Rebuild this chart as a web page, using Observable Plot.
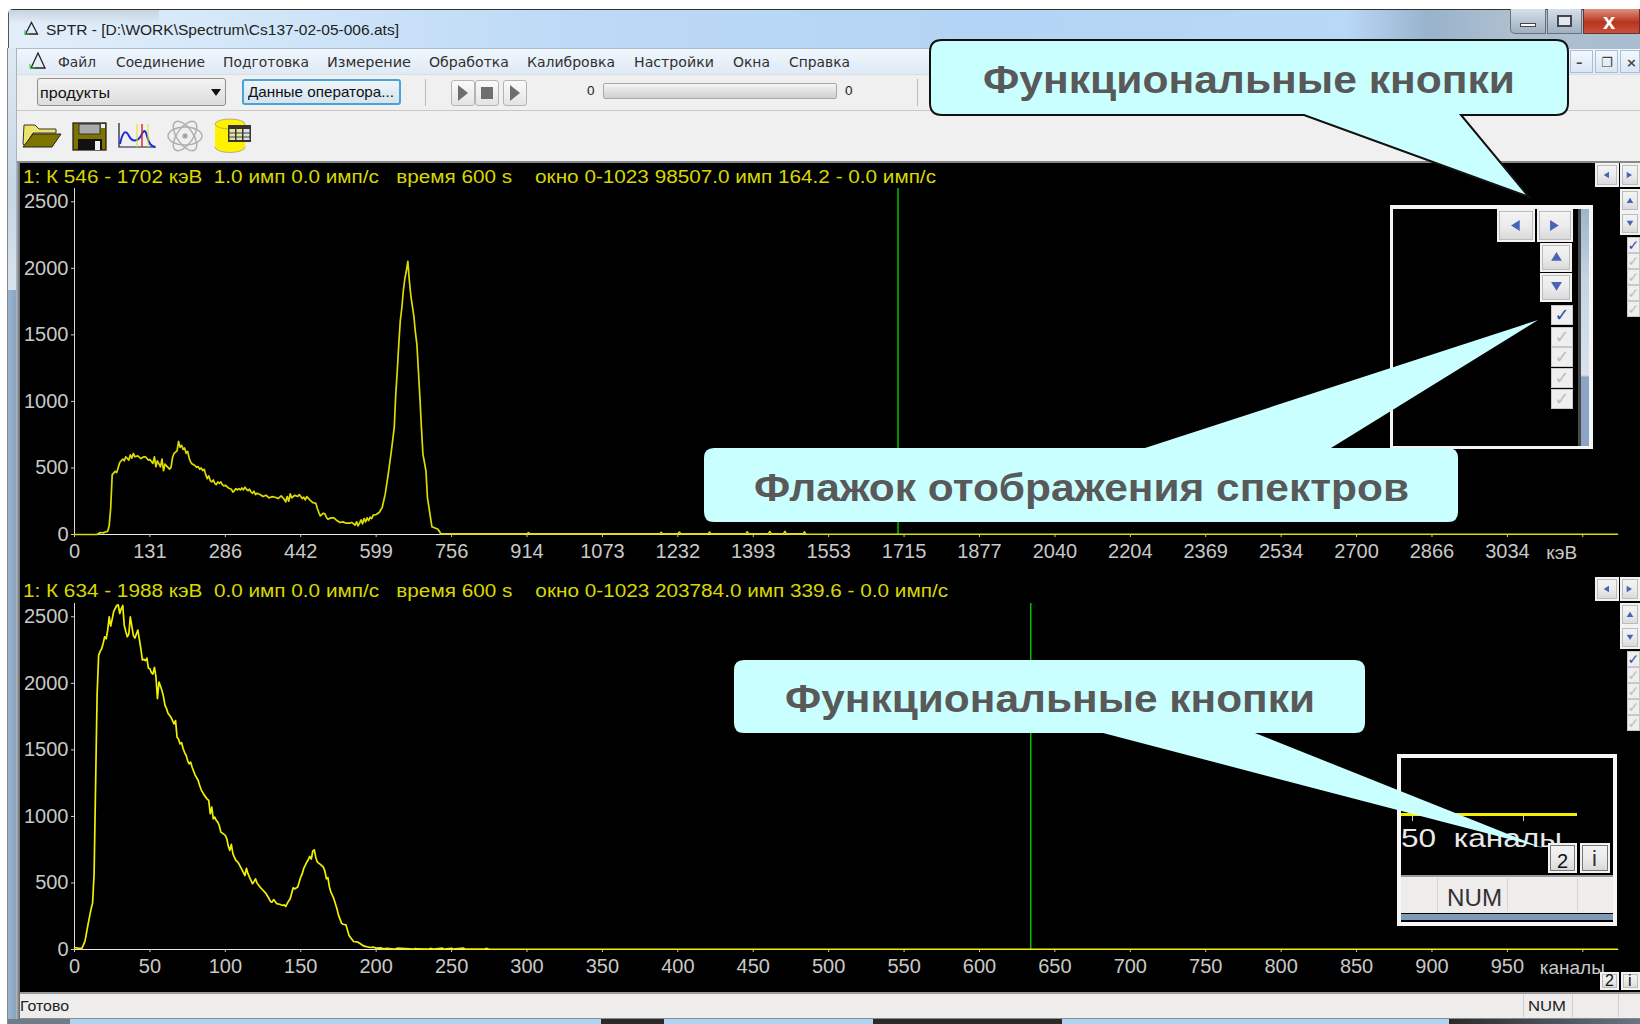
<!DOCTYPE html>
<html><head><meta charset="utf-8">
<script src="https://cdn.jsdelivr.net/npm/d3@7"></script>
<script src="https://cdn.jsdelivr.net/npm/@observablehq/plot@0.6"></script>
<style>
html,body{margin:0;padding:0;background:#fff;width:1640px;height:1024px;overflow:hidden;font-family:"Liberation Sans",Arial,sans-serif}
#app{position:relative;width:1640px;height:1024px;overflow:hidden}
.a{position:absolute;box-sizing:border-box}
.t{position:absolute;white-space:pre;transform-origin:0 50%;line-height:1}
svg{display:block}
</style></head><body><div id="app"></div>
<script>
// ---------- DATA ----------
const topChannels = [0,15,17,19,22,23,24,25,27,28,30,31,32,33,34,36,37,38,39,40,42,44,46,47,49,50,52,53,54,55,57,58,59,60,61,63,64,65,66,68,69,70,71,72,73,74,75,76,77,78,79,80,81,82,83,84,85,86,87,88,89,90,91,92,93,94,95,96,97,98,99,100,102,104,105,106,107,108,109,110,111,112,113,114,115,116,117,118,119,120,121,123,125,127,129,131,133,135,137,139,140,141,142,143,144,146,148,149,151,152,153,154,156,158,160,161,162,163,165,166,167,168,170,172,174,176,178,180,182,184,186,187,188,189,190,191,192,193,194,195,196,197,198,200,202,204,206,208,210,212,213,214,215,216,217,218,219,220,221,222,223,225,226,227,228,229,230,231,233,234,236,237,241,243,300,301,302,388,389,390,400,401,402,420,421,422,445,446,447,460,461,462,470,471,472,483,484,485,1023];
const topCounts = [0,0,15,12,25,65,200,450,474,466,541,554,566,554,584,559,599,574,609,584,591,571,584,584,559,564,534,584,509,554,509,566,479,529,516,491,504,579,609,629,699,655,670,640,650,610,625,575,545,530,525,515,505,510,490,500,480,490,450,420,440,405,395,410,385,375,395,385,395,375,365,370,350,340,318,330,345,335,345,335,350,335,355,340,330,340,320,310,325,300,310,300,285,295,275,285,280,270,290,265,245,285,250,305,275,295,285,300,270,280,260,285,260,240,235,195,165,140,160,155,130,115,125,125,105,90,95,85,85,90,70,95,65,85,110,80,120,95,125,105,130,120,145,150,165,203,303,454,620,805,1055,1230,1431,1607,1700,1830,1920,1980,2052,1907,1794,1640,1520,1431,1230,1030,805,604,479,278,128,58,40,4,4,14,4,4,16,4,4,18,4,4,18,4,4,20,4,4,22,4,4,24,4,4,20,2,2];

const bottomChannels = [0,3,5,7,9,11,12,13,14,15,16,17,18,19,20,21,22,23,24,25,26,28,29,30,31,32,33,34,35,36,37,38,39,40,42,43,44,45,46,47,48,49,50,51,52,53,54,55,56,57,58,59,60,61,62,63,64,65,66,67,68,69,70,71,72,73,74,75,76,77,78,79,80,82,83,84,86,87,88,89,90,91,92,93,94,95,96,97,98,100,101,102,103,104,105,106,107,108,109,111,113,114,115,116,117,118,119,120,121,123,125,127,129,130,131,132,134,136,138,139,140,141,142,143,145,146,148,150,151,152,154,155,156,157,158,159,160,161,163,165,166,167,168,169,170,171,172,174,175,177,178,180,182,185,188,190,192,196,198,200,203,205,207,212,213,214,225,226,227,235,236,238,244,245,250,251,258,259,272,273,275,1023];
const bottomCounts = [15,8,10,65,190,305,350,570,1245,1920,2210,2240,2260,2300,2350,2335,2400,2500,2430,2485,2540,2585,2590,2525,2560,2585,2435,2390,2350,2370,2500,2430,2360,2340,2400,2330,2260,2175,2180,2170,2190,2115,2110,2080,2070,2120,2050,1885,2010,1980,1945,1900,1835,1810,1775,1760,1745,1720,1695,1720,1595,1580,1545,1555,1510,1480,1460,1420,1395,1408,1370,1340,1310,1270,1233,1200,1160,1145,1130,1120,1020,1070,982,995,970,957,930,882,875,857,830,775,745,790,720,694,670,660,644,600,556,610,570,544,520,494,510,531,500,469,445,420,381,360,356,375,345,340,331,335,323,345,365,381,464,455,469,544,570,610,657,675,699,680,740,749,690,657,640,619,590,531,540,470,431,406,380,306,260,198,190,185,105,60,55,40,25,15,18,10,12,5,9,3,4,10,3,8,4,3,8,3,10,3,9,3,10,3,3,8,2,2];

const channelTicks = [0,50,100,150,200,250,300,350,400,450,500,550,600,650,700,750,800,850,900,950,1000];
const kevLabels = ["0","131","286","442","599","756","914","1073","1232","1393","1553","1715","1877","2040","2204","2369","2534","2700","2866","3034",""];
const channelLabels = ["0","50","100","150","200","250","300","350","400","450","500","550","600","650","700","750","800","850","900","950",""];
const countTicks = [0,500,1000,1500,2000,2500];
const topMarker = 546, bottomMarker = 634;
const topHeader = "1: К 546 - 1702 кэВ  1.0 имп 0.0 имп/с   время 600 s    окно 0-1023 98507.0 имп 164.2 - 0.0 имп/с";
const bottomHeader = "1: К 634 - 1988 кэВ  0.0 имп 0.0 имп/с   время 600 s    окно 0-1023 203784.0 имп 339.6 - 0.0 имп/с";
const menuItems = [["Файл",58,38],["Соединение",116,89],["Подготовка",223,86],["Измерение",327,84],["Обработка",429,80],["Калибровка",527,88],["Настройки",634,80],["Окна",733,37],["Справка",789,61]];

// ---------- CHROME HELPERS ----------
const app = document.getElementById("app");
function box(x,y,w,h,css,parent){const d=document.createElement("div");d.className="a";d.style.cssText+=`left:${x}px;top:${y}px;width:${w}px;height:${h}px;${css||""}`;(parent||app).appendChild(d);return d;}
function txt(x,cy,s,size,color,opt){opt=opt||{};const d=document.createElement("div");d.className="t";d.textContent=s;
 d.style.cssText+=`left:${x}px;top:${cy-size/2}px;font-size:${size}px;color:${color};font-family:${opt.font||'"Liberation Sans"'};font-weight:${opt.weight||400};`;
 app.appendChild(d);
 if(opt.fit){const w=d.getBoundingClientRect().width;d.style.transform=`scaleX(${opt.fit/w})`;}
 return d;}
function btn(x,y,w,h,css){return box(x,y,w,h,"background:linear-gradient(#f4f4f4,#ececec 50%,#d8d8d8);border:2px solid #f2f2f2;outline:1px solid #bcbcbc;outline-offset:-3px;"+(css||""));}
function glyphBtn(x,y,w,h,dir,sz){btn(x,y,w,h);
 const pts={l:"0,5 8,0 8,10",r:"0,0 8,5 0,10",u:"5,0 10,8 0,8",d:"0,0 10,0 5,8"}[dir];
 box(x+w/2-sz/2,y+h/2-sz/2,sz,sz,"").innerHTML=`<svg width="${sz}" height="${sz}" viewBox="-1 -1 12 12"><polygon points="${pts}" fill="#4a63b8"/></svg>`;}
function check(x,y,w,h,on,sz){box(x,y,w,h,"background:#efefef;border:1px solid #c8c8c8;");
 txt(x+w/2-sz*0.42,y+h/2,"✓",sz,on?"#2c50a8":"#bdbdbd",{font:'"DejaVu Sans"',weight:700});}

// window frame
box(8,9,1632,1015,"background:#b9d6f2;border-top:1px solid #333;border-left:1px solid #555;border-radius:5px 0 0 0;");
box(9,10,1631,38,"background:linear-gradient(90deg,#e3eefa 0,#d6e8f9 12%,#bcd9f6 35%,#b4d4f5 60%,#b9d8f7 82%,#98b3cc 87%,#aebfce 92%,#a9bdd0 100%);");
box(9,10,150,14,"background:linear-gradient(#c9d3dc,rgba(220,230,240,0));");
box(8,48,8,242,"background:linear-gradient(#dfe9f3,#c6d6e5 60%,#d8e3ee);");
box(8,290,8,734,"background:linear-gradient(90deg,#9ab4cc,#88a4c2);");
box(16,48,4,976,"background:linear-gradient(90deg,#b4c0cc,#666);");
box(7,48,1,976,"background:#888;");
txt(46,29,"SPTR - [D:\\WORK\\Spectrum\\Cs137-02-05-006.ats]",15,"#222",{fit:353});
box(24,21,15,15,"").innerHTML='<svg width="15" height="15"><polygon points="7.5,1.5 13.5,13 1.5,13" fill="none" stroke="#222" stroke-width="1.3"/><path d="M1 13 L1 9 M1 13 L5 13" stroke="#2c2" stroke-width="1"/></svg>';

// menu & toolbar
box(17,48,1623,27,"background:linear-gradient(#f0f6fc,#dfeaf6);border-top:1px solid #a8bdd2;border-bottom:1px solid #d9dfe6;");
box(17,75,1623,36,"background:#f0f0f0;border-bottom:1px solid #c8c8c8;");
box(17,111,1623,52,"background:#f0f0f0;border-bottom:2px solid #888;");
box(26,50,22,22,"").innerHTML='<svg width="22" height="22"><polygon points="12,3 19,18 5,18" fill="none" stroke="#222" stroke-width="1.3"/><path d="M4 18 L4 14 M4 18 L9 18" stroke="#2c2" stroke-width="1"/></svg>';
menuItems.forEach(([s,x,w])=>txt(x,62,s,14.5,"#303030",{fit:w,font:'"DejaVu Sans"'}));
box(37,78,189,28,"background:linear-gradient(#f4f4f4,#dcdcdc);border:1px solid #8f8f8f;border-radius:3px;");
txt(40,93,"продукты",14.5,"#111",{fit:70});
box(211,89,10,8,"").innerHTML='<svg width="10" height="8"><polygon points="0,0 10,0 5,7" fill="#111"/></svg>';
box(242,79,159,26,"background:linear-gradient(#eef5fa,#d5e4ee);border:2px solid #4aa3d8;border-radius:3px;");
txt(248,92,"Данные оператора...",14.5,"#111",{fit:146});
box(425,79,1,27,"background:#bcbcbc;");box(917,79,1,27,"background:#bcbcbc;");
[[451,"r"],[475,"s"],[503,"r"]].forEach(([x,k])=>{box(x,80,24,26,"background:linear-gradient(#fafafa,#e4e4e4);border:1px solid #b4b4b4;border-radius:3px;");
 box(x+6,85,12,16,"").innerHTML=k=="r"?'<svg width="12" height="16"><polygon points="1,0 11,8 1,16" fill="#6e6e6e"/></svg>':'<svg width="12" height="16"><rect x="0" y="2" width="12" height="12" fill="#6e6e6e"/></svg>';});
txt(587,91,"0",13.5,"#222");txt(845,91,"0",13.5,"#222");
box(603,83,234,16,"background:linear-gradient(#f5f5f5,#cfcfcf);border:1px solid #a8a8a8;border-radius:2px;");

// icons
box(20,120,44,32,"").innerHTML='<svg width="44" height="32"><path d="M3 24 L4 5 L15 5 L19 9 L36 9 L36 13 L13 13 L5 26 Z" fill="#eee36a" stroke="#333"/><polygon points="13,14 41,14 32,27 3,27" fill="#7d7400" stroke="#222"/></svg>';
box(72,122,36,30,"").innerHTML='<svg width="36" height="30"><rect x="1" y="1" width="33" height="27" fill="#7d7400" stroke="#222" stroke-width="1.3"/><rect x="7" y="2" width="21" height="10" fill="#aaa" stroke="#333"/><rect x="29" y="2" width="4" height="4" fill="#eee"/><rect x="6" y="17" width="24" height="11" fill="#111"/><rect x="23" y="19" width="5" height="9" fill="#eee"/></svg>';
box(117,122,42,28,"").innerHTML='<svg width="42" height="28"><path d="M2 1 L2 25 L39 25" stroke="#14143c" stroke-width="1.2" fill="none"/><path d="M3 22 C6 8 9 8 12 14 C15 20 20 20 24 14 C26 9 28 6 30 14 C32 22 34 24 38 25" stroke="#1c2ae0" stroke-width="2" fill="none"/><path d="M20 2 V25 M31 2 V25" stroke="#e8e000"/><path d="M25 2 V25" stroke="#e02020" stroke-width="1.4"/></svg>';
box(166,118,38,36,"").innerHTML='<svg width="38" height="36" fill="none" stroke="#b0b0b0" stroke-width="1.5"><ellipse cx="19" cy="18" rx="17" ry="8" transform="rotate(55 19 18)"/><ellipse cx="19" cy="18" rx="17" ry="8" transform="rotate(-55 19 18)"/><ellipse cx="19" cy="18" rx="17" ry="9"/><circle cx="19" cy="18" r="2" fill="#999"/></svg>';
box(214,118,40,36,"").innerHTML='<svg width="40" height="36"><ellipse cx="16" cy="29" rx="15" ry="5.5" fill="#fff200" stroke="#888" stroke-width="0.6"/><rect x="1" y="6" width="30" height="23" fill="#fff200"/><ellipse cx="16" cy="6" rx="15" ry="5" fill="#fff200" stroke="#888" stroke-width="0.6"/><rect x="14" y="7" width="23" height="17" fill="#333"/><g fill="#e6e2a0"><rect x="15.5" y="11" width="5.5" height="11"/><rect x="22.5" y="11" width="5.5" height="11"/></g><rect x="29.5" y="11" width="6" height="11" fill="#ddd"/><path d="M14 15 H37 M14 19 H37" stroke="#333" stroke-width="0.9"/></svg>';

// MDI + window buttons
[[1570,"–"],[1595,"❐"],[1620,"×"]].forEach(([x,s])=>{box(x,50,x==1620?20:23,23,"background:linear-gradient(#f3f8fd,#d9e6f3);border:1px solid #a9bfd4;");txt(x+6,62,s,13,"#444",{font:'"DejaVu Sans"',weight:700});});
box(1510,9,36,25,"background:linear-gradient(#d5dfe8,#9fb0bf);border:1px solid #66727d;border-top:none;border-radius:0 0 0 5px;");
box(1547,9,35,25,"background:linear-gradient(#d5dfe8,#9fb0bf);border:1px solid #66727d;border-top:none;");
box(1583,9,57,25,"background:linear-gradient(#e09080,#b8341e 55%,#c8523c);border:1px solid #66322c;border-top:none;");
box(1520,23,16,4,"background:#fff;border:1px solid #445;");box(1557,15,15,12,"border:2px solid #445;background:#e2e8ee;");
txt(1603,22,"x",22,"#fff",{weight:700});

// plot backdrop and status bar
box(20,163,1620,829,"background:#000;");
box(20,992,1620,27,"background:#efecec;border-top:2px solid #9a9a9a;border-bottom:1px solid #8a8a8a;");
box(20,1019,1620,5,"background:#b2d2f2;");
box(8,1019,62,5,"background:#6d7d8c;");
box(601,1019,63,5,"background:#2a2a2a;");box(873,1019,189,5,"background:#2a2a2a;");
box(1449,1019,191,5,"background:linear-gradient(90deg,#2a2a2a,#667686);");
txt(20,1006,"Готово",14,"#222",{fit:49});
txt(1528,1006,"NUM",14,"#222",{fit:38});
[1523,1572,1618].forEach(x=>box(x,994,1,23,"background:#cfcfcf;"));

// ---------- PLOTS ----------
function spectrum(channels,counts,ticks,labels,marker,unit,unitX,opts){
 const pts=channels.map((c,i)=>({c,v:counts[i]}));
 const lookup=new Map(ticks.map((t,i)=>[t,labels[i]]));
 return Plot.plot({
  width:1620,height:opts.height,marginLeft:54,marginRight:23,marginTop:opts.top,marginBottom:opts.bottom,
  style:{background:"transparent",fontFamily:'"Liberation Sans"',overflow:"visible"},
  x:{domain:[0,1023],axis:null},
  y:{domain:[0,2600],axis:null},
  marks:[
   Plot.ruleX([0],{stroke:"#d8d8d8",strokeWidth:1}),
   Plot.ruleY([0],{stroke:"#e8e8e8",strokeWidth:1.2}),
   Plot.ruleX([marker],{stroke:"#00dc00",strokeWidth:1.3}),
   Plot.axisX({ticks,tickFormat:d=>lookup.get(d),tickSize:3,tickPadding:6,fontSize:20,color:"#c8c8c8",label:null}),
   Plot.axisY({ticks:countTicks,tickSize:3,tickPadding:3,fontSize:20,color:"#c8c8c8",label:null,tickFormat:d=>String(d)}),
   Plot.line(pts,{x:"c",y:"v",stroke:opts.color,strokeWidth:1.7,curve:"linear"}),
   Plot.text([unit],{x:()=>unitX,y:()=>0,dy:opts.unitDy,text:d=>d,fill:"#c8c8c8",fontSize:19})
  ]});
}
function place(el,x,y){const d=box(x,y,1620,el.getAttribute("height"),"");d.appendChild(el);}
place(spectrum(topChannels,topCounts,channelTicks,kevLabels,topMarker,"кэВ",986,{height:408,top:25,bottom:37,color:"#dcdc00",unitDy:18}),20,163);
place(spectrum(bottomChannels,bottomCounts,channelTicks,channelLabels,bottomMarker,"каналы",993,{height:413,top:26,bottom:41,color:"#f0f000",unitDy:18}),20,577);
txt(23,177,topHeader,18,"#d8d800",{fit:913});
txt(23,591,bottomHeader,18,"#d8d800",{fit:925});

// side buttons of both panels
[[163,0],[577,0]].forEach(([y])=>{
 glyphBtn(1595,y,24,24,"l",8);glyphBtn(1620,y,20,24,"r",8);
 glyphBtn(1620,y+26,20,23,"u",8);glyphBtn(1620,y+49,20,23,"d",8);
 for(let i=0;i<5;i++)check(1627,y+74+i*16,13,16,i==0,14);
});
btn(1600,972,19,18);btn(1621,972,19,18);
txt(1605,981,"2",16,"#111");txt(1628,981,"i",16,"#111");

// top inset
box(1390,205,203,244,"background:#000;border:solid #f4f4f4;border-width:4px 4px 3px 3px;");
box(1578,209,3,237,"background:#4a4a4a;");
box(1581,209,8,237,"background:linear-gradient(#9db5cc 0,#c4d4e4 30%,#d8e2ec 70%,#8ba6c4 71%,#8ba6c4 100%);");
glyphBtn(1497,209,38,33,"l",13);glyphBtn(1537,209,36,33,"r",13);
glyphBtn(1540,243,32,29,"u",13);glyphBtn(1540,273,32,29,"d",13);
[305,327,347,368,389].forEach((y,i)=>check(1551,y,22,20,i==0,18));

// bottom inset
box(1397,754,220,172,"background:#000;border:4px solid #f6f6f6;");
box(1401,875,212,38,"background:#efecec;border-top:2px solid #9a9a9a;");
box(1401,914,212,6,"background:#7f9ab8;");
box(1401,813,176,3,"background:#f0f000;");box(1523,816,1,5,"background:#ccc;");box(1412,816,1,5,"background:#ccc;");
txt(1401,838,"50  каналы",25,"#e8e8e8",{fit:161});
[1437,1507,1577].forEach(x=>box(x,878,1,33,"background:#d4d4d4;"));
txt(1447,898,"NUM",24,"#333",{fit:55});
btn(1548,843,29,30,"outline-color:#777;");btn(1580,843,30,30,"outline-color:#777;");
txt(1557,861,"2",20,"#111");txt(1592,859,"i",22,"#333");

// callouts
const ns=box(0,0,1640,1024,"pointer-events:none;");
ns.innerHTML=`<svg width="1640" height="1024">
<path d="M942 40 H1556 Q1568 40 1568 52 V103 Q1568 115 1556 115 H1461 L1529 197 L1304 115 H942 Q930 115 930 103 V52 Q930 40 942 40 Z" fill="#c9ffff" stroke="#111" stroke-width="2"/>
<path d="M714 448 H1145 L1538 320 L1331 448 H1448 Q1458 448 1458 458 V512 Q1458 522 1448 522 H714 Q704 522 704 512 V458 Q704 448 714 448 Z" fill="#c9ffff"/>
<path d="M744 660 H1355 Q1365 660 1365 670 V723 Q1365 733 1355 733 H1255 L1543 848 L1103 733 H744 Q734 733 734 723 V670 Q734 660 744 660 Z" fill="#c9ffff"/></svg>`;
txt(983,80,"Функциональные кнопки",38,"#595959",{weight:700,fit:532});
txt(754,488,"Флажок отображения спектров",38,"#595959",{weight:700,fit:655});
txt(785,699,"Функциональные кнопки",38,"#595959",{weight:700,fit:530});
</script></body></html>
